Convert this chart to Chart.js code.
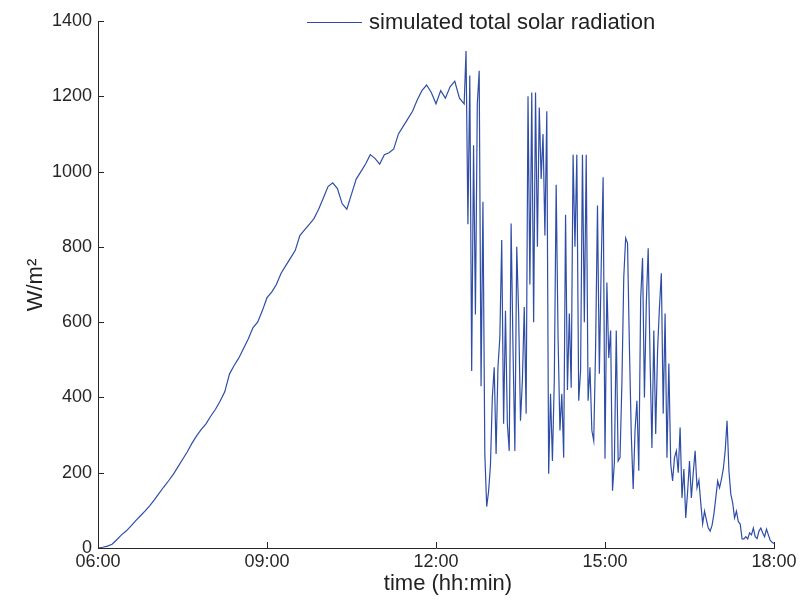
<!DOCTYPE html>
<html>
<head>
<meta charset="utf-8">
<script src="https://cdn.jsdelivr.net/npm/chart.js@4/dist/chart.umd.min.js"></script>
<style>
  html, body { margin: 0; padding: 0; background: #fff; }
  #wrap { width: 801px; height: 603px; }
</style>
</head>
<body>
<div id="wrap"><canvas id="chart" width="801" height="603"></canvas></div>
<script>
// 時刻は 06:00 からの経過分
const morningStart = 0;
const morningStep = 5;
const morningValues = [
  0, 2, 5, 10, 22, 35, 45, 58, 72, 85,
  98, 112, 128, 145, 162, 178, 195, 215, 235, 255,
  278, 298, 315, 330, 350, 368, 390, 415, 462, 485,
  505, 530, 555, 585, 600, 630, 665, 680, 700, 730,
  750, 770, 790, 830, 845, 860, 875, 900, 930, 960,
  970, 955, 915, 900, 940, 980, 1000, 1020, 1045, 1035,
  1020, 1045, 1050, 1060, 1100, 1120, 1140, 1160, 1190, 1215,
  1230, 1210, 1180, 1215, 1195, 1225, 1240, 1195
];

const afternoonStart = 390;
const afternoonStep = 2;
const afternoonValues = [
  1180, 1320, 860, 1255, 470, 1070, 620, 1180, 1268, 430,
  920, 250, 110, 150, 220, 400, 480, 250, 480, 560,
  818, 330, 630, 330, 258, 862, 533, 258, 800, 623,
  338, 445, 640, 357, 1200, 700, 1210, 600, 1210, 800,
  1170, 980, 1100, 830, 1160, 197, 410, 231, 445, 965,
  560, 312, 410, 240, 885, 420, 623, 426, 1045, 800,
  1045, 391, 471, 1045, 600, 1045, 391, 480, 312, 285,
  533, 910, 463, 755, 985, 237, 705, 505, 578, 152,
  227, 578, 231, 240, 437, 720, 823, 810, 533, 300,
  157, 312, 391, 205, 663, 770, 400, 650, 796, 500,
  266, 578, 303, 525, 640, 730, 357, 623, 240, 490,
  223, 178, 240, 258, 200, 320, 133, 210, 80, 150,
  231, 133, 200, 258, 160, 180, 120, 64, 98, 75,
  53, 45, 60, 90, 133, 178, 160, 182, 210, 258,
  338, 205, 143, 120, 80, 98, 70, 64, 24, 24,
  30, 24, 40, 35, 53, 30, 25, 45, 53, 40,
  30, 50, 35, 20, 15, 12
];

const yTicks = [0, 200, 400, 600, 800, 1000, 1200, 1400];
const xTicks = [0, 180, 360, 540, 720];
const xTickLabels = ['06:00', '09:00', '12:00', '15:00', '18:00'];
const seriesLabel = 'simulated total solar radiation';
const xTitle = 'time (hh:min)';
const yTitle = 'W/m²';

const FONT = '"Liberation Sans", Arial, Helvetica, sans-serif';
const AXIS_COLOR = '#262626';
const LINE_COLOR = '#2f4da6';

const points = [
  ...morningValues.map((v, i) => ({ x: morningStart + i * morningStep, y: v })),
  ...afternoonValues.map((v, i) => ({ x: afternoonStart + i * afternoonStep, y: v }))
];

// 内向きの目盛り・凡例・軸ラベルを描く
const decorations = {
  id: 'decorations',
  afterDraw(chart) {
    const { ctx, chartArea, scales } = chart;
    ctx.save();
    ctx.strokeStyle = AXIS_COLOR;
    ctx.lineWidth = 1;
    ctx.beginPath();
    yTicks.forEach(v => {
      const y = Math.round(scales.y.getPixelForValue(v)) + 0.5;
      ctx.moveTo(chartArea.left, y);
      ctx.lineTo(chartArea.left + 6, y);
    });
    xTicks.forEach(v => {
      const x = Math.round(scales.x.getPixelForValue(v)) + 0.5;
      ctx.moveTo(x, chartArea.bottom);
      ctx.lineTo(x, chartArea.bottom - 6);
    });
    ctx.stroke();

    // 凡例
    ctx.strokeStyle = LINE_COLOR;
    ctx.beginPath();
    ctx.moveTo(307, 22.5);
    ctx.lineTo(362, 22.5);
    ctx.stroke();
    ctx.fillStyle = '#222';
    ctx.font = '22px ' + FONT;
    ctx.textAlign = 'left';
    ctx.textBaseline = 'middle';
    ctx.fillText(seriesLabel, 369, 23);

    // 軸タイトル
    ctx.textAlign = 'center';
    ctx.fillText(xTitle, 448, 584);
    ctx.translate(36, 285);
    ctx.rotate(-Math.PI / 2);
    ctx.fillText(yTitle, 0, 0);
    ctx.restore();
  }
};

new Chart(document.getElementById('chart'), {
  type: 'line',
  data: {
    datasets: [{
      label: seriesLabel,
      data: points,
      borderColor: LINE_COLOR,
      borderWidth: 1.2,
      pointRadius: 0,
      tension: 0,
      fill: false
    }]
  },
  options: {
    responsive: false,
    animation: false,
    devicePixelRatio: 1,
    layout: { padding: { left: 0, right: 27, top: 21, bottom: 0 } },
    plugins: {
      legend: { display: false },
      tooltip: { enabled: false }
    },
    scales: {
      x: {
        type: 'linear',
        min: 0,
        max: 720,
        afterBuildTicks: scale => { scale.ticks = xTicks.map(v => ({ value: v })); },
        afterFit: scale => { scale.height = 55; },
        ticks: {
          callback: v => xTickLabels[xTicks.indexOf(v)],
          font: { family: FONT, size: 18 },
          color: AXIS_COLOR,
          padding: 3,
          maxRotation: 0,
          autoSkip: false
        },
        grid: { drawOnChartArea: false, drawTicks: false },
        border: { display: true, color: AXIS_COLOR, width: 1 }
      },
      y: {
        min: 0,
        max: 1400,
        afterBuildTicks: scale => { scale.ticks = yTicks.map(v => ({ value: v })); },
        afterFit: scale => { scale.width = 98; },
        ticks: {
          callback: v => String(v),
          font: { family: FONT, size: 18 },
          color: AXIS_COLOR,
          padding: 6
        },
        grid: { drawOnChartArea: false, drawTicks: false },
        border: { display: true, color: AXIS_COLOR, width: 1 }
      }
    }
  },
  plugins: [decorations]
});
</script>
</body>
</html>
